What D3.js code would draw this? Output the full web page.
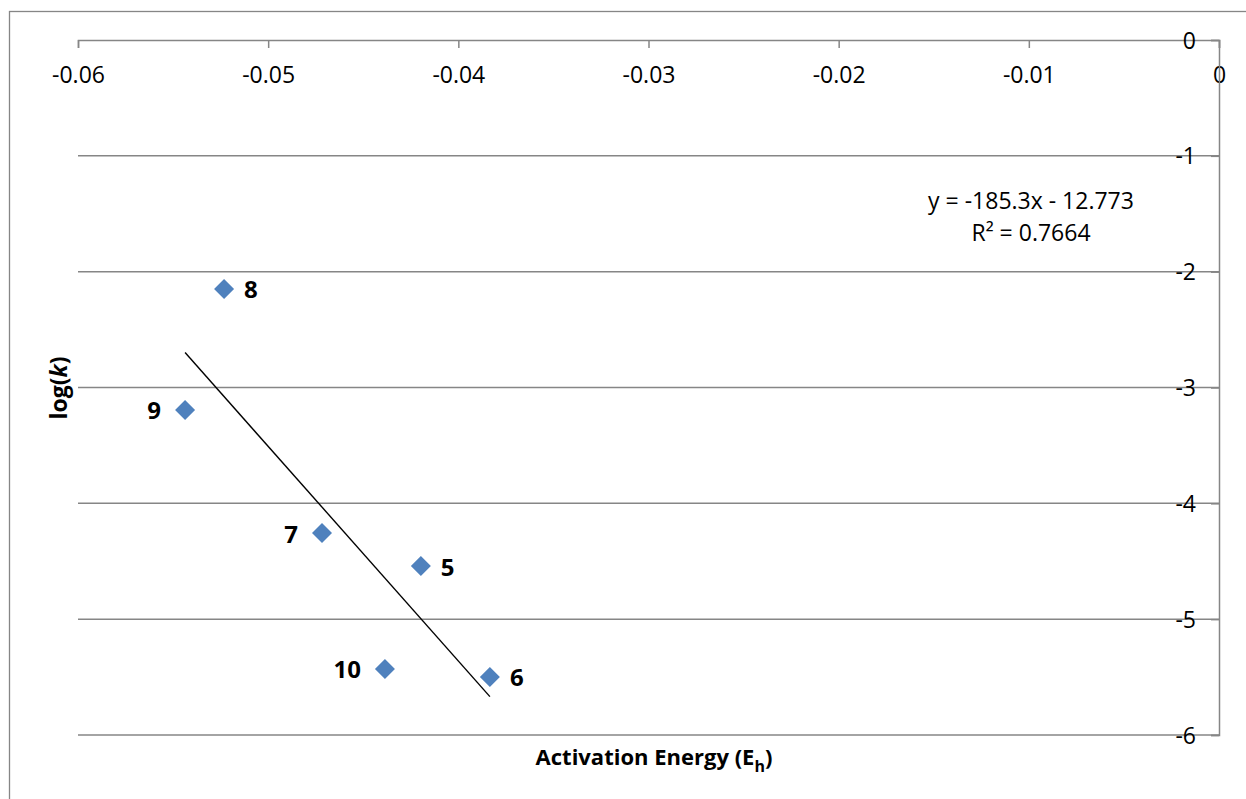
<!DOCTYPE html>
<html>
<head>
<meta charset="utf-8">
<script src="https://cdn.jsdelivr.net/npm/d3@7"></script>
<style>
  body { margin: 0; background: #fff; }
  svg text { font-family: "Open Sans", "Liberation Sans", sans-serif; fill: #000; }
</style>
</head>
<body>
<svg id="chart"></svg>
<script>
const width = 1246, height = 799;
const margin = { top: 40, right: 27, bottom: 64, left: 78 };

// data
const labels = ["8", "9", "7", "5", "10", "6"];
const energies = [-0.05232, -0.05437, -0.04717, -0.04197, -0.04386, -0.03834];
const logK = [-2.15, -3.195, -4.257, -4.542, -5.43, -5.50];
const xTicks = [-0.06, -0.05, -0.04, -0.03, -0.02, -0.01, 0];
const yTicks = [0, -1, -2, -3, -4, -5, -6];
const slope = -185.3, intercept = -12.773;
// which side of the marker each label sits on
const labelSide = ["right", "left", "left", "right", "left", "right"];

const svg = d3.select("#chart")
    .attr("width", width)
    .attr("height", height);

// outer chart border (runs off the bottom/right of the picture)
svg.append("rect")
    .attr("x", 9.5).attr("y", 11.5)
    .attr("width", 1260).attr("height", 820)
    .attr("fill", "none")
    .attr("stroke", "#868686")
    .attr("stroke-width", 1.3);

const x = d3.scaleLinear().domain([-0.06, 0]).range([margin.left, width - margin.right]);
const y = d3.scaleLinear().domain([-6, 0]).range([height - margin.bottom, margin.top]);

// horizontal gridlines
svg.append("g")
    .selectAll("line")
    .data(yTicks.filter(d => d !== 0))
    .enter().append("line")
    .attr("x1", x(-0.06)).attr("x2", x(0))
    .attr("y1", d => y(d)).attr("y2", d => y(d))
    .attr("stroke", "#868686")
    .attr("stroke-width", 1.5);

// top x axis (sits at y = 0), ticks point into the plot
const xAxis = svg.append("g")
    .attr("transform", `translate(0,${y(0)})`)
    .call(d3.axisTop(x).tickValues(xTicks).tickSize(-8).tickFormat(d => d === 0 ? "0" : d.toFixed(2)));
xAxis.select(".domain").attr("stroke", "#868686").attr("stroke-width", 1.5);
xAxis.selectAll(".tick line").attr("stroke", "#868686").attr("stroke-width", 1.5);
xAxis.selectAll(".tick text")
    .attr("y", 35)
    .attr("dy", "0.35em")
    .style("font-size", "23px")
    .style("fill", "#000");

// right y axis (sits at x = 0), ticks point into the plot
const yAxis = svg.append("g")
    .attr("transform", `translate(${x(0)},0)`)
    .call(d3.axisRight(y).tickValues(yTicks).tickSize(-8).tickFormat(d => String(d)));
yAxis.select(".domain").attr("stroke", "#868686").attr("stroke-width", 1.5);
yAxis.selectAll(".tick line").attr("stroke", "#868686").attr("stroke-width", 1.5);
yAxis.selectAll(".tick text")
    .attr("x", -23)
    .attr("text-anchor", "end")
    .attr("dy", "0.35em")
    .style("font-size", "23px")
    .style("fill", "#000");

// trendline across the data range
const xr = d3.extent(energies);
svg.append("path")
    .attr("d", d3.line()(xr.map(v => [x(v), y(slope * v + intercept)])))
    .attr("stroke", "#000")
    .attr("stroke-width", 1.4)
    .attr("fill", "none");

// markers
const pts = energies.map((e, i) => ({ e, k: logK[i], label: labels[i], side: labelSide[i] }));
svg.append("g")
    .selectAll("path")
    .data(pts)
    .enter().append("path")
    .attr("transform", d => `translate(${x(d.e)},${y(d.k)}) rotate(45)`)
    .attr("d", d3.symbol().type(d3.symbolSquare).size(200))
    .attr("fill", "#4F81BD");

// data labels
svg.append("g")
    .selectAll("text")
    .data(pts)
    .enter().append("text")
    .attr("x", d => x(d.e) + (d.side === "right" ? 20 : -24))
    .attr("y", d => y(d.k) + 1)
    .attr("dy", "0.35em")
    .attr("text-anchor", d => d.side === "right" ? "start" : "end")
    .style("font-size", "24px")
    .style("font-weight", "bold")
    .text(d => d.label);

// trendline equation
svg.append("text")
    .attr("x", 1031).attr("y", 201)
    .attr("dy", "0.35em")
    .attr("text-anchor", "middle")
    .style("font-size", "23px")
    .text("y = -185.3x - 12.773");
svg.append("text")
    .attr("x", 1031).attr("y", 233)
    .attr("dy", "0.35em")
    .attr("text-anchor", "middle")
    .style("font-size", "23px")
    .text("R² = 0.7664");

// x axis title
const xt = svg.append("text")
    .attr("x", 654).attr("y", 757)
    .attr("dy", "0.35em")
    .attr("text-anchor", "middle")
    .style("font-size", "22px")
    .style("font-weight", "bold");
xt.append("tspan").text("Activation Energy (E");
xt.append("tspan").attr("dy", 7).style("font-size", "16px").text("h");
xt.append("tspan").attr("dy", -7).text(")");

// y axis title
const yt = svg.append("text")
    .attr("transform", "translate(59,388) rotate(-90)")
    .attr("dy", "0.35em")
    .attr("text-anchor", "middle")
    .style("font-size", "23px")
    .style("font-weight", "bold");
yt.append("tspan").text("log(");
yt.append("tspan").style("font-style", "italic").text("k");
yt.append("tspan").text(")");
</script>
</body>
</html>
